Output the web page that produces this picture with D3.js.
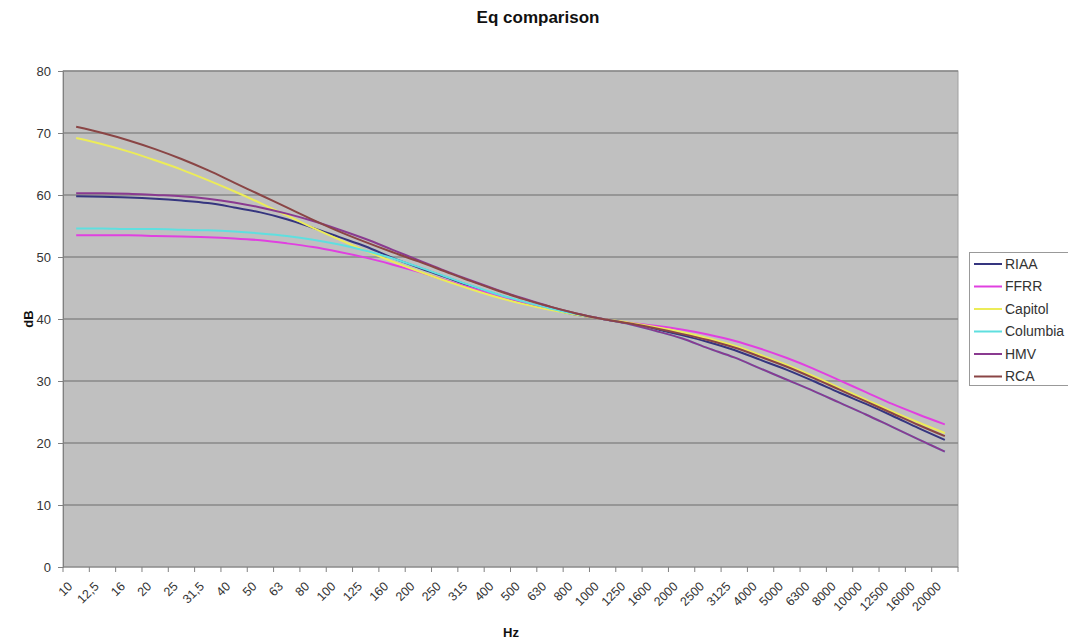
<!DOCTYPE html>
<html><head><meta charset="utf-8">
<script src="https://cdn.jsdelivr.net/npm/d3@7"></script>
<style>
body{margin:0;background:#fff;}
text{font-family:Arial,"Liberation Sans",sans-serif;}
</style>
</head><body>
<svg id="chart" width="1068" height="643"></svg>
<script>
const categories = ["10","12,5","16","20","25","31,5","40","50","63","80","100","125","160","200","250","315","400","500","630","800","1000","1250","1600","2000","2500","3125","4000","5000","6300","8000","10000","12500","16000","20000"];
const riaa     = [59.8,59.7,59.6,59.4,59.1,58.7,58.0,57.2,56.1,54.7,53.2,51.7,49.9,48.3,46.8,45.3,43.9,42.7,41.6,40.7,40.0,39.3,38.4,37.4,36.3,35.0,33.4,31.8,30.0,28.1,26.3,24.4,22.4,20.5];
const ffrr     = [53.5,53.5,53.5,53.4,53.3,53.2,53.0,52.7,52.2,51.6,50.8,49.9,48.8,47.6,46.3,45.0,43.8,42.7,41.7,40.8,40.0,39.4,38.9,38.3,37.5,36.5,35.2,33.7,32.0,30.1,28.2,26.3,24.6,23.0];
const capitol  = [69.2,68.2,67.0,65.6,64.1,62.4,60.6,58.7,56.7,54.7,52.8,51.0,49.3,47.7,46.2,44.8,43.5,42.4,41.5,40.7,40.0,39.4,38.7,37.9,36.9,35.7,34.2,32.6,30.8,28.9,27.0,25.1,23.3,21.6];
const columbia = [54.6,54.6,54.5,54.5,54.4,54.3,54.1,53.8,53.4,52.8,52.0,51.0,49.8,48.4,46.9,45.4,44.0,42.8,41.7,40.8,40.0,39.2,38.1,36.9,35.3,33.8,32.0,30.2,28.4,26.5,24.6,22.6,20.6,18.6];
const hmv      = [60.3,60.3,60.2,60.0,59.8,59.4,58.8,58.0,57.0,55.8,54.4,52.9,51.2,49.5,47.8,46.2,44.7,43.3,42.0,40.9,40.0,39.2,38.1,36.9,35.3,33.8,32.0,30.2,28.4,26.5,24.6,22.6,20.6,18.6];
const rca      = [71.0,70.0,68.8,67.4,65.8,64.0,62.0,60.0,58.0,56.0,54.1,52.4,50.8,49.3,47.7,46.1,44.6,43.2,42.0,40.9,40.0,39.3,38.5,37.6,36.6,35.4,33.9,32.3,30.5,28.6,26.7,24.8,22.9,21.1];
const seriesNames = ["RIAA","FFRR","Capitol","Columbia","HMV","RCA"];
const seriesColors = ["#35357f","#e040e0","#ecec58","#5fdfdf","#8a3a90","#8a4545"];
const yTicks = [0,10,20,30,40,50,60,70,80];
const titleText = "Eq comparison", xTitle = "Hz", yTitle = "dB";

const seriesData = [riaa, ffrr, capitol, columbia, hmv, rca];
const svg = d3.select("#chart");
const L = 63, R = 958, T = 71, B = 567;

const x = d3.scaleBand().domain(categories).range([L, R]).padding(0);
const y = d3.scaleLinear().domain([0, 80]).range([B, T]);
const cx = c => x(c) + x.bandwidth() / 2;

svg.append("rect").attr("x", L).attr("y", T).attr("width", R - L).attr("height", B - T)
  .attr("fill", "#c0c0c0").attr("stroke", "#a0a0a0").attr("stroke-width", 1);

svg.append("g").selectAll("line").data(yTicks.filter(d => d > 0)).join("line")
  .attr("x1", L).attr("x2", R).attr("y1", d => y(d)).attr("y2", d => y(d))
  .attr("stroke", "#888").attr("stroke-width", 1.4);

const yAxis = svg.append("g").attr("transform", `translate(${L},0)`)
  .call(d3.axisLeft(y).tickValues(yTicks).tickSize(5).tickPadding(7));
yAxis.select(".domain").attr("stroke", "#808080");
yAxis.selectAll(".tick line").attr("stroke", "#808080");
yAxis.selectAll("text").attr("font-size", 13).attr("fill", "#333").attr("font-family", "Arial");

svg.append("line").attr("x1", L).attr("x2", R).attr("y1", B).attr("y2", B).attr("stroke", "#808080");
const bounds = categories.map(c => x(c)).concat([x.range()[1]]);
svg.append("g").selectAll("line").data(bounds).join("line")
  .attr("x1", d => d).attr("x2", d => d).attr("y1", B).attr("y2", B + 5).attr("stroke", "#808080");
svg.append("g").selectAll("text").data(categories).join("text")
  .attr("transform", d => `translate(${cx(d) - 6},${B + 17}) rotate(-45)`)
  .attr("text-anchor", "end").attr("dy", "0.35em")
  .attr("font-size", 12.5).attr("fill", "#333").text(d => d);

const line = d3.line().x((d, i) => cx(categories[i])).y(d => y(d)).curve(d3.curveMonotoneX);
svg.append("g").selectAll("path").data(seriesData).join("path")
  .attr("d", d => line(d)).attr("fill", "none")
  .attr("stroke", (d, i) => seriesColors[i]).attr("stroke-width", 2);

svg.append("text").attr("x", 538).attr("y", 23).attr("text-anchor", "middle")
  .attr("font-size", 17).attr("font-weight", "bold").attr("fill", "#111").text(titleText);
svg.append("text").attr("x", 511).attr("y", 637).attr("text-anchor", "middle")
  .attr("font-size", 13).attr("font-weight", "bold").attr("fill", "#111").text(xTitle);
svg.append("text").attr("transform", "translate(33,319) rotate(-90)").attr("text-anchor", "middle")
  .attr("font-size", 13).attr("font-weight", "bold").attr("fill", "#111").text(yTitle);

const lg = svg.append("g");
lg.append("rect").attr("x", 969.5).attr("y", 252.5).attr("width", 110).attr("height", 133)
  .attr("fill", "#fff").attr("stroke", "#999");
seriesNames.forEach((n, i) => {
  const yy = 264 + i * 22.5;
  lg.append("line").attr("x1", 974).attr("x2", 1002).attr("y1", yy).attr("y2", yy)
    .attr("stroke", seriesColors[i]).attr("stroke-width", 2);
  lg.append("text").attr("x", 1005).attr("y", yy).attr("dy", "0.35em")
    .attr("font-size", 14).attr("fill", "#333").text(n);
});
</script>
</body></html>
